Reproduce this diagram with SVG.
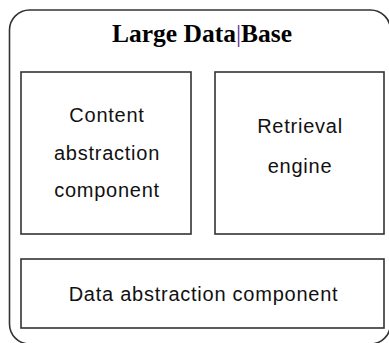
<svg xmlns="http://www.w3.org/2000/svg" width="389" height="343" viewBox="0 0 389 343">
<style>
.box{fill:#fff;stroke:#333;stroke-width:1.6}
.lbl{font-family:"Liberation Sans",Arial,sans-serif;font-size:20px;letter-spacing:0.75px;fill:#111;text-anchor:middle}
.title{font-family:"Liberation Serif","Times New Roman",serif;font-size:25.5px;font-weight:bold;fill:#000;text-anchor:middle}
</style>
<rect width="389" height="343" fill="#fff"/>
<g id="database">
<rect x="9.5" y="10" width="381" height="334" rx="20" ry="20" fill="#fff" stroke="#333" stroke-width="1.6"/>
<text class="title" x="202" y="42">Large Data<tspan fill="#6a2a8a" font-weight="normal">|</tspan>Base</text>
</g>
<g id="content">
<rect class="box" x="21" y="72" width="170" height="162"/>
<text class="lbl" x="107" y="122">Content</text>
<text class="lbl" x="107" y="160">abstraction</text>
<text class="lbl" x="107" y="197">component</text>
</g>
<g id="retrieval">
<rect class="box" x="215" y="72" width="169" height="162"/>
<text class="lbl" x="300" y="133">Retrieval</text>
<text class="lbl" x="300" y="173">engine</text>
</g>
<g id="data">
<rect class="box" x="21" y="259" width="363" height="69"/>
<text class="lbl" x="203.5" y="301">Data abstraction component</text>
</g>
<g id="connectors"/>
</svg>
